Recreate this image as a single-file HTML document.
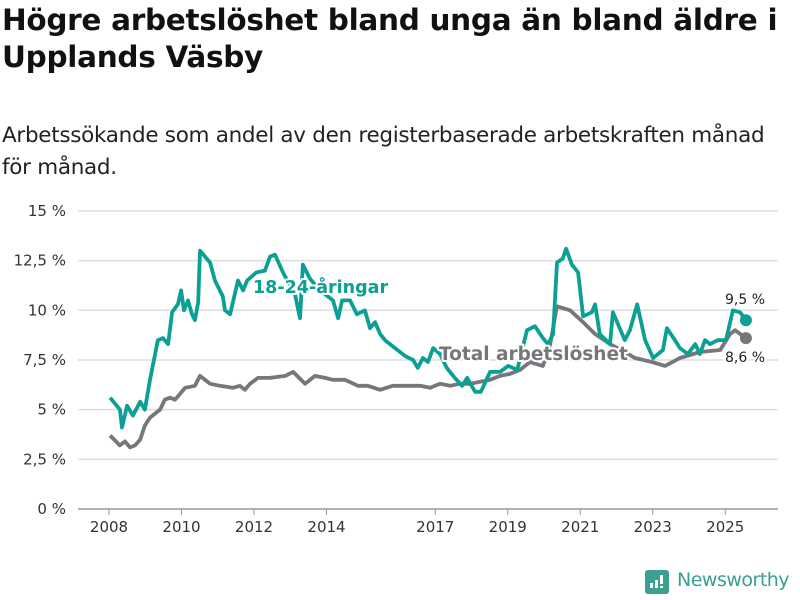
<!DOCTYPE html>
<html><head><meta charset="utf-8">
<style>
body{margin:0;background:#fff;font-family:"Liberation Sans","DejaVu Sans",sans-serif;}
#wrap{position:relative;width:800px;height:600px;overflow:hidden;}
h1{position:absolute;left:2px;top:2px;margin:0;font-size:29.5px;line-height:37px;font-weight:bold;color:#111;font-family:"DejaVu Sans",sans-serif;letter-spacing:-0.3px;}
.sub{position:absolute;left:2px;top:120px;margin:0;font-size:21.5px;line-height:32px;color:#222;font-family:"DejaVu Sans",sans-serif;letter-spacing:-0.3px;}
svg text{font-family:"DejaVu Sans",sans-serif;}
</style></head><body>
<div id="wrap">
<h1>Högre arbetslöshet bland unga än bland äldre i<br>Upplands Väsby</h1>
<p class="sub">Arbetssökande som andel av den registerbaserade arbetskraften månad<br>för månad.</p>
<svg id="chart" width="800" height="600" style="position:absolute;left:0;top:0"></svg>
<div style="position:absolute;left:645px;top:570px;width:24px;height:24px;background:#3a9e93;border-radius:3px">
<div style="position:absolute;left:5px;top:13px;width:3px;height:5px;background:#fff"></div>
<div style="position:absolute;left:10px;top:10px;width:3px;height:8px;background:#fff"></div>
<div style="position:absolute;left:15px;top:5px;width:3px;height:9px;background:#fff"></div>
<div style="position:absolute;left:15px;top:16px;width:3px;height:2px;background:#fff"></div>
</div>
<div style="position:absolute;left:677px;top:569px;font-size:19px;color:#3a9e93;font-family:'DejaVu Sans',sans-serif;letter-spacing:-0.5px">Newsworthy</div>
</div>
<script>
const yTicks=[0,2.5,5,7.5,10,12.5,15];
const yTickLabels=["0 %","2,5 %","5 %","7,5 %","10 %","12,5 %","15 %"];
const xTicks=[2008,2010,2012,2014,2017,2019,2021,2023,2025];
const youthYears=[2008.03,2008.30,2008.36,2008.50,2008.66,2008.86,2008.99,2009.13,2009.35,2009.49,2009.63,2009.74,2009.90,2009.99,2010.07,2010.18,2010.29,2010.37,2010.46,2010.51,2010.79,2010.92,2011.14,2011.20,2011.34,2011.48,2011.56,2011.70,2011.81,2012.06,2012.30,2012.44,2012.58,2012.80,2013.13,2013.27,2013.35,2013.54,2013.82,2014.18,2014.32,2014.43,2014.65,2014.84,2015.06,2015.20,2015.34,2015.48,2015.61,2015.89,2016.17,2016.39,2016.52,2016.66,2016.80,2016.94,2017.13,2017.32,2017.54,2017.74,2017.88,2018.10,2018.26,2018.51,2018.79,2019.01,2019.26,2019.53,2019.75,2019.97,2020.11,2020.25,2020.36,2020.52,2020.61,2020.77,2020.94,2021.08,2021.32,2021.41,2021.54,2021.82,2021.90,2022.23,2022.37,2022.57,2022.79,2023.01,2023.28,2023.39,2023.61,2023.75,2023.97,2024.17,2024.30,2024.44,2024.58,2024.80,2025.02,2025.21,2025.41,2025.57];
const youthValues=[5.6,5.0,4.1,5.2,4.7,5.4,5.0,6.5,8.5,8.6,8.3,9.9,10.3,11.0,10.0,10.5,9.8,9.5,10.4,13.0,12.4,11.5,10.7,10.0,9.8,10.9,11.5,11.0,11.5,11.9,12.0,12.7,12.8,11.9,10.8,9.6,12.3,11.6,11.0,10.5,9.6,10.5,10.5,9.8,10.0,9.1,9.4,8.8,8.5,8.1,7.7,7.5,7.1,7.6,7.4,8.1,7.8,7.1,6.6,6.2,6.6,5.9,5.9,6.9,6.9,7.2,7.0,9.0,9.2,8.6,8.3,8.8,12.4,12.6,13.1,12.3,11.9,9.7,9.9,10.3,8.8,8.3,9.9,8.5,9.0,10.3,8.5,7.6,8.0,9.1,8.5,8.1,7.8,8.3,7.8,8.5,8.3,8.5,8.5,10.0,9.9,9.5];
const totalYears=[2008.03,2008.30,2008.44,2008.58,2008.72,2008.86,2008.99,2009.13,2009.41,2009.54,2009.68,2009.82,2009.96,2010.10,2010.37,2010.51,2010.79,2011.06,2011.42,2011.61,2011.75,2011.89,2012.11,2012.44,2012.86,2013.08,2013.41,2013.68,2013.96,2014.18,2014.51,2014.87,2015.14,2015.48,2015.83,2016.30,2016.58,2016.86,2017.13,2017.41,2017.68,2017.96,2018.23,2018.51,2018.79,2019.06,2019.34,2019.61,2019.97,2020.17,2020.36,2020.72,2021.08,2021.41,2021.82,2022.23,2022.51,2022.98,2023.34,2023.75,2024.30,2024.86,2025.13,2025.27,2025.57];
const totalValues=[3.7,3.2,3.4,3.1,3.2,3.5,4.2,4.6,5.0,5.5,5.6,5.5,5.8,6.1,6.2,6.7,6.3,6.2,6.1,6.2,6.0,6.3,6.6,6.6,6.7,6.9,6.3,6.7,6.6,6.5,6.5,6.2,6.2,6.0,6.2,6.2,6.2,6.1,6.3,6.2,6.3,6.3,6.4,6.5,6.7,6.8,7.0,7.4,7.2,8.3,10.2,10.0,9.4,8.8,8.3,7.9,7.6,7.4,7.2,7.6,7.9,8.0,8.8,9.0,8.6];
const NS="http://www.w3.org/2000/svg";
const svg=document.getElementById('chart');
const X=yr=>109+(yr-2008)*36.25;
const Y=v=>509-v*19.87;
function mk(tag,attrs){const e=document.createElementNS(NS,tag);for(const k in attrs)e.setAttribute(k,attrs[k]);svg.appendChild(e);return e;}
yTicks.forEach((t,i)=>{
  const g=mk('line',{x1:78,x2:778,y1:Y(t),y2:Y(t),stroke:t===0?'#999':'#ddd','stroke-width':1.5});
  
  
  const l=mk('text',{x:66,y:Y(t)+5,'text-anchor':'end','font-size':15,fill:'#333'});
  l.textContent=yTickLabels[i];
  
  
});
xTicks.forEach(t=>{
  const tk=mk('line',{x1:X(t),x2:X(t),y1:509,y2:515,stroke:'#999','stroke-width':1});
  
  
  const l=mk('text',{x:X(t),y:532,'text-anchor':'middle','font-size':15,fill:'#333'});
  l.textContent=t;
  
  
});
function line(ys,vs,color,name){
  const d=ys.map((y,i)=>(i?'L':'M')+X(y).toFixed(1)+','+Y(vs[i]).toFixed(1)).join('');
  const p=mk('path',{d:d,fill:'none',stroke:color,'stroke-width':3.8,'stroke-linejoin':'round'});
  
  
}
line(totalYears,totalValues,'#77767b','total-line');
line(youthYears,youthValues,'#0ca095','youth-line');
const d1=mk('circle',{cx:X(totalYears[totalYears.length-1]),cy:Y(totalValues[totalValues.length-1]),r:6,fill:'#77767b'});


const d2=mk('circle',{cx:X(youthYears[youthYears.length-1]),cy:Y(youthValues[youthValues.length-1]),r:6,fill:'#0ca095'});


function lab(x,y,t,c,fs,w,name){const e=mk('text',{x:x,y:y,'font-size':fs,'font-weight':w,fill:c,stroke:'#fff','stroke-width':4,'paint-order':'stroke','stroke-linejoin':'round'});e.textContent=t;
  
  }
lab(253,293,'18-24-åringar','#0ca095',17.5,'bold','youth-series-label');
lab(439,360,'Total arbetslöshet','#77767b',18.5,'bold','total-series-label');
lab(725,304,'9,5 %','#222',14,'normal','youth-end-value');
lab(725,362,'8,6 %','#222',14,'normal','total-end-value');
</script>
</body></html>
